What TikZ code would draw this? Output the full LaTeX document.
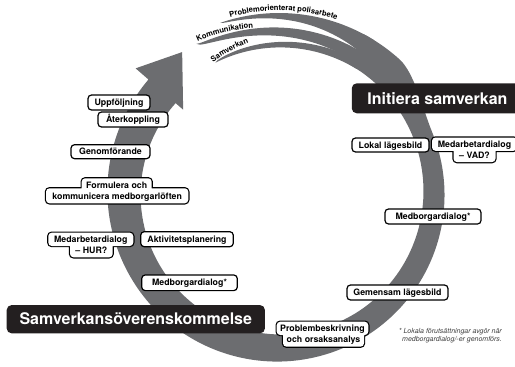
\documentclass[tikz,border=0pt]{standalone}
\usepackage{fontspec}
\setmainfont{TeX Gyre Heros}
\usetikzlibrary{decorations.text}
\definecolor{bandgray}{RGB}{108,109,112}
\definecolor{boxblack}{RGB}{35,31,32}
\newcommand{\arcfont}{\fontsize{7.6}{9}\selectfont\bfseries}
\begin{document}
\begin{tikzpicture}[x=1pt,y=-1pt,
  boxfont/.style={font=\fontsize{8.8}{10}\selectfont\bfseries},
  stepbox/.style={boxfont, draw=black, line width=1.2pt, fill=white,
    rounded corners=3.5pt, inner sep=0pt, text height=6.3pt, text depth=0pt},
  tabedge/.style={draw=black, line width=2.4pt, rounded corners=3.5pt},
  tabfill/.style={fill=white, rounded corners=3.5pt},
  boxtext/.style={boxfont, anchor=base, inner sep=0pt},
  bigbox/.style={fill=boxblack, text=white, font=\fontsize{16}{19}\selectfont\bfseries,
    rounded corners=5pt, inner sep=0pt, text height=11.5pt, text depth=0pt},
  footnote/.style={font=\fontsize{7}{8}\selectfont\itshape, text=black!75,
    anchor=base east, inner sep=0pt},
  arclabel/.style={decorate, decoration={text along path, text align=left}}
]
\useasboundingbox (0,0) rectangle (515,367);
\clip (0,0) rectangle (515,367);

% ---------- the circular process band ----------
\begin{scope}[shift={(279,193)}]
  % three converging streams at the top
  \fill[bandgray]
    plot[domain=-109:-58, samples=40, variable=\t] (\t:180)
    -- plot[domain=-58:-109, samples=60, variable=\t]
         (\t:{180-8*sqrt(max(0,(109+\t)/64))-18*((109+\t)/64)^2}) -- cycle;
  \fill[bandgray]
    plot[domain=-119:-58, samples=60, variable=\t]
         (\t:{170.5-8*sqrt(max(0,(119+\t)/74))})
    -- plot[domain=-58:-119, samples=60, variable=\t]
         (\t:{170.5-21.5*sqrt(max(0,(119+\t)/74))}) -- cycle;
  \fill[bandgray]
    plot[domain=-116:-58, samples=60, variable=\t]
         (\t:{145+10*sqrt(max(0,(116+\t)/71))})
    -- plot[domain=-58:-116, samples=60, variable=\t]
         (\t:{145+1.6*max(0,(116+\t)/71)}) -- cycle;
  % main band, growing wider clockwise, ending in the arrow head
  \fill[bandgray]
    plot[domain=-62:-48, samples=10, variable=\t] (\t:180)
    .. controls +(14.9,13.4) and +(-9.4,-23.2) .. (-22:164.8)
    -- plot[domain=-22:221, samples=150, variable=\t] (\t:{164+0.0338*(45+\t)})
    -- (221:190) -- (235.5:171) -- (221:127)
    -- plot[domain=221:-62, samples=150, variable=\t] (\t:{146-0.0338*(45+\t)})
    -- cycle;
  % labels riding on the streams
  \path[arclabel, decoration={text={|\arcfont|Problemorienterat polisarbete}}]
    plot[domain=-105.5:-55, samples=50, variable=\t] (\t:182.5);
  \path[arclabel, decoration={text={|\arcfont|Kommunikation}}]
    plot[domain=-118.2:-80, samples=40, variable=\t] (\t:{172-0.25*(118.2+\t)});
  \path[arclabel, decoration={text={|\arcfont|Samverkan}}]
    plot[domain=-116.7:-90, samples=30, variable=\t] (\t:{146.5+0.45*(116.7+\t)});
\end{scope}

% ---------- single-line steps ----------
\node[stepbox, minimum width=62pt, minimum height=15pt] (uppf) at (119,102.5) {Uppföljning};
\node[stepbox, minimum width=70pt, minimum height=15pt] (aterk) at (133,119.5) {Återkoppling};
\node[stepbox, minimum width=79pt, minimum height=14pt] (genom) at (110.5,151.7) {Genomförande};
\node[stepbox, minimum width=92.6pt, minimum height=15pt] (aktiv) at (187,239.2) {Aktivitetsplanering};
\node[stepbox, minimum width=95.6pt, minimum height=15.6pt] (medbA) at (189.5,282.8) {Medborgardialog*};
\node[stepbox, minimum width=77pt, minimum height=14pt] (lokal) at (390.5,145) {Lokal lägesbild};
\node[stepbox, minimum width=96pt, minimum height=15pt] (medbB) at (433,216.5) {Medborgardialog*};
\node[stepbox, minimum width=101pt, minimum height=15pt] (gemen) at (397.5,292.5) {Gemensam lägesbild};

% ---------- two-line steps with a tab-shaped outline ----------
\path[tabedge] (81.7,178.3) rectangle (151.7,193) (46,188.3) rectangle (188.3,203.3);
\path[tabfill] (81.7,178.3) rectangle (151.7,193) (46,188.3) rectangle (188.3,203.3);
\node[boxtext] (form1) at (116.7,188.1) {Formulera och};
\node[boxtext] (form2) at (117.2,199.1) {kommunicera medborgarlöften};

\path[tabedge] (48.3,232.7) rectangle (133.3,246) (70,240) rectangle (112.7,257.3);
\path[tabfill] (48.3,232.7) rectangle (133.3,246) (70,240) rectangle (112.7,257.3);
\node[boxtext] (hur1) at (90.8,242.5) {Medarbetardialog};
\node[boxtext] (hur2) at (91.35,253.5) {– HUR?};

\path[tabedge] (432,137.5) rectangle (517,150.8) (453.5,144) rectangle (495.5,162.1);
\path[tabfill] (432,137.5) rectangle (517,150.8) (453.5,144) rectangle (495.5,162.1);
\node[boxtext] (vad1) at (474.5,147.3) {Medarbetardialog};
\node[boxtext] (vad2) at (474.5,158.3) {– VAD?};

\path[tabedge] (276.7,321.7) rectangle (368.3,335) (283,328) rectangle (364,346.7);
\path[tabfill] (276.7,321.7) rectangle (368.3,335) (283,328) rectangle (364,346.7);
\node[boxtext] (prob1) at (322.5,331.5) {Problembeskrivning};
\node[boxtext] (prob2) at (323.5,342.5) {och orsaksanalys};

% ---------- phase headings ----------
\node[bigbox, minimum width=258.3pt, minimum height=28.3pt] (samv) at (135.8,319.2) {Samverkansöverenskommelse};
\node[bigbox, minimum width=171.3pt, minimum height=30pt] (init) at (437.4,98.3) {Initiera samverkan};

% ---------- footnote ----------
\node[footnote] (fn1) at (502,333) {* Lokala förutsättningar avgör när};
\node[footnote] (fn2) at (502,341) {medborgardialog/-er genomförs.};
\end{tikzpicture}
\end{document}
